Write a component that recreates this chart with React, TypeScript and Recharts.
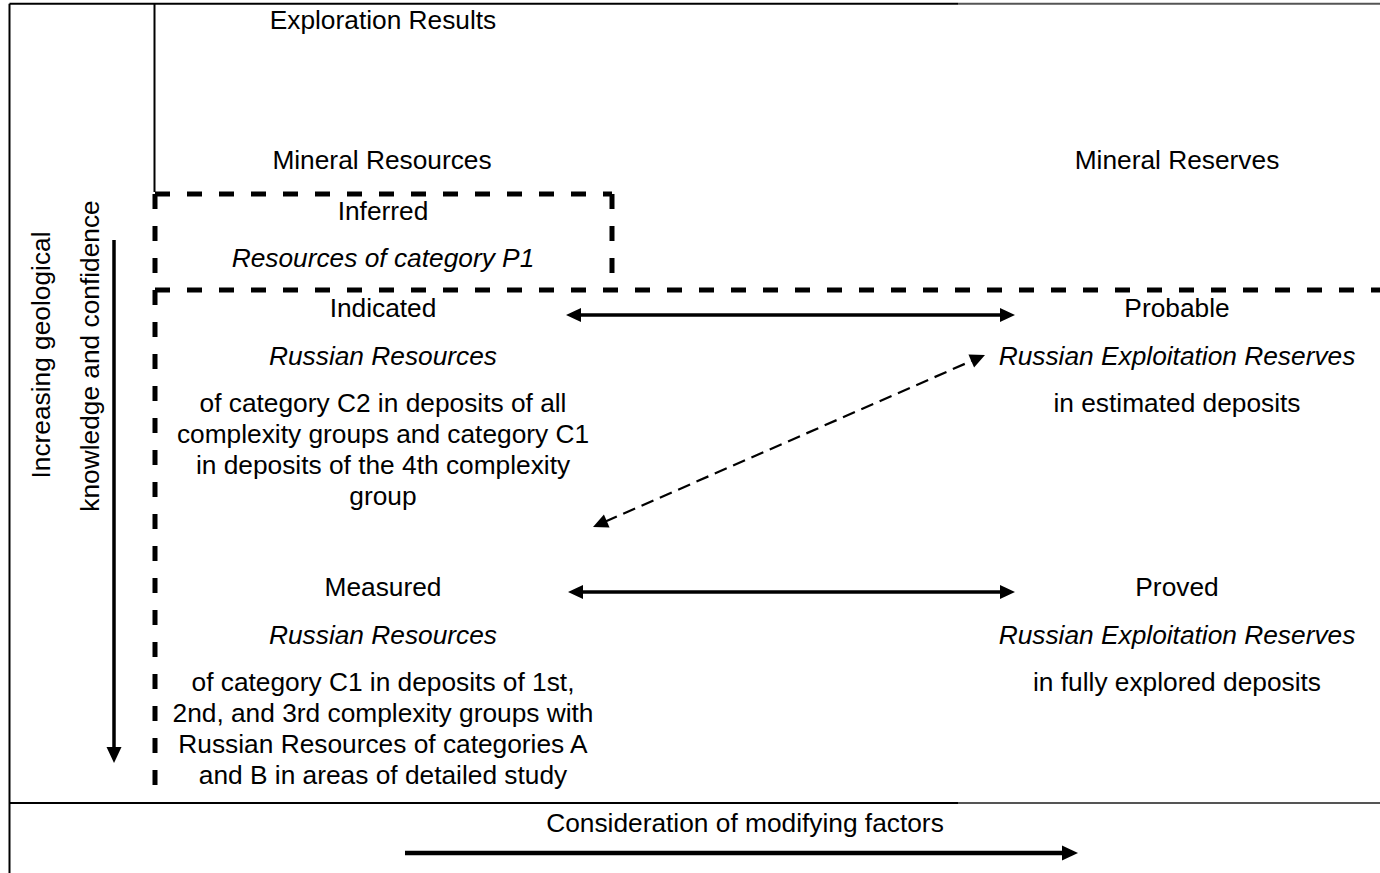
import React from "react";
import { ScatterChart, Scatter, XAxis, YAxis, ReferenceLine } from "recharts";

const W = 1380;
const H = 873;

type Seg = { x1: number; y1: number; x2: number; y2: number };
type Lbl = { x: number; y: number; text: string };

// frame lines (solid black)
const frameBlack: Seg[] = [
  { x1: 9.5, y1: 3.7, x2: 9.5, y2: 873 },
  { x1: 9.5, y1: 3.7, x2: 958, y2: 3.7 },
  { x1: 9.5, y1: 803, x2: 958, y2: 803 },
  { x1: 154.5, y1: 3.7, x2: 154.5, y2: 192 },
];
// frame lines (grey continuation)
const frameGrey: Seg[] = [
  { x1: 958, y1: 3.7, x2: 1380, y2: 3.7 },
  { x1: 958, y1: 803, x2: 1380, y2: 803 },
];
// thick dashed boundaries
const dashedBounds: Seg[] = [
  { x1: 155, y1: 194, x2: 612, y2: 194 },
  { x1: 612, y1: 194, x2: 612, y2: 290 },
  { x1: 155, y1: 290, x2: 1380, y2: 290 },
  { x1: 155, y1: 194, x2: 155, y2: 290 },
  { x1: 155, y1: 290, x2: 155, y2: 803 },
];
// arrows
const singleArrows: Seg[] = [
  { x1: 114, y1: 240, x2: 114, y2: 763 },
  { x1: 405, y1: 853, x2: 1078, y2: 853 },
];
const doubleArrows: Seg[] = [
  { x1: 566, y1: 315, x2: 1015, y2: 315 },
  { x1: 568, y1: 592, x2: 1015, y2: 592 },
];
const dashedDoubleArrows: Seg[] = [{ x1: 593, y1: 527, x2: 985, y2: 355 }];

// text labels (y = text vertical centre)
const regularLabels: Lbl[] = [
  { x: 383, y: 20, text: "Exploration Results" },
  { x: 382, y: 160, text: "Mineral Resources" },
  { x: 1177, y: 160, text: "Mineral Reserves" },
  { x: 383, y: 211, text: "Inferred" },
  { x: 383, y: 308, text: "Indicated" },
  { x: 1177, y: 308, text: "Probable" },
  { x: 383, y: 403, text: "of category C2 in deposits of all" },
  { x: 383, y: 434, text: "complexity groups and category C1" },
  { x: 383, y: 465, text: "in deposits of the 4th complexity" },
  { x: 383, y: 496, text: "group" },
  { x: 1177, y: 403, text: "in estimated deposits" },
  { x: 383, y: 587, text: "Measured" },
  { x: 1177, y: 587, text: "Proved" },
  { x: 383, y: 682, text: "of category C1 in deposits of 1st," },
  { x: 383, y: 713, text: "2nd, and 3rd complexity groups with" },
  { x: 383, y: 744, text: "Russian Resources of categories A" },
  { x: 383, y: 775, text: "and B in areas of detailed study" },
  { x: 1177, y: 682, text: "in fully explored deposits" },
  { x: 745, y: 823, text: "Consideration of modifying factors" },
];
const italicLabels: Lbl[] = [
  { x: 383, y: 258, text: "Resources of category P1" },
  { x: 383, y: 356, text: "Russian Resources" },
  { x: 1177, y: 356, text: "Russian Exploitation Reserves" },
  { x: 383, y: 635, text: "Russian Resources" },
  { x: 1177, y: 635, text: "Russian Exploitation Reserves" },
];
const rotatedLabels: Lbl[] = [
  { x: 41, y: 355, text: "Increasing geological" },
  { x: 90, y: 356, text: "knowledge and confidence" },
];

const FONT = "'Liberation Sans', Arial, sans-serif";
const FS = 26.3;

const head = (tx: number, ty: number, fx: number, fy: number, len: number, half: number) => {
  const dx = tx - fx;
  const dy = ty - fy;
  const d = Math.hypot(dx, dy) || 1;
  const ux = dx / d;
  const uy = dy / d;
  const bx = tx - ux * len;
  const by = ty - uy * len;
  const px = -uy * half;
  const py = ux * half;
  return `${tx},${ty} ${bx + px},${by + py} ${bx - px},${by - py}`;
};

const arrowShape =
  (both: boolean, width: number, len: number, half: number, dash?: string) =>
  (p: any) => {
    const { x1, y1, x2, y2 } = p;
    const d = Math.hypot(x2 - x1, y2 - y1) || 1;
    const ux = (x2 - x1) / d;
    const uy = (y2 - y1) / d;
    const sx = both ? x1 + ux * (len - 2) : x1;
    const sy = both ? y1 + uy * (len - 2) : y1;
    const ex = x2 - ux * (len - 2);
    const ey = y2 - uy * (len - 2);
    return (
      <g>
        <line x1={sx} y1={sy} x2={ex} y2={ey} stroke="#000" strokeWidth={width} strokeDasharray={dash} />
        <polygon points={head(x2, y2, x1, y1, len, half)} fill="#000" />
        {both && <polygon points={head(x1, y1, x2, y2, len, half)} fill="#000" />}
      </g>
    );
  };

const textShape = (italic: boolean) => (p: any) => {
  const { cx, cy, payload } = p;
  return (
    <text
      x={cx}
      y={cy + 9.3}
      textAnchor="middle"
      fontFamily={FONT}
      fontSize={FS}
      fontStyle={italic ? "italic" : "normal"}
      fill="#000"
    >
      {payload.text}
    </text>
  );
};

const rotatedShape = (p: any) => {
  const { cx, cy, payload } = p;
  return (
    <text
      x={cx}
      y={cy + 9.3}
      textAnchor="middle"
      fontFamily={FONT}
      fontSize={FS}
      fill="#000"
      transform={`rotate(-90 ${cx} ${cy})`}
    >
      {payload.text}
    </text>
  );
};

const segOf = (s: Seg) => [
  { x: s.x1, y: s.y1 },
  { x: s.x2, y: s.y2 },
];

export default function App() {
  return (
    <div style={{ width: W, height: H, background: "#fff" }}>
      <style>{"body{margin:0;background:#fff}"}</style>
      <ScatterChart width={W} height={H} margin={{ top: 0, right: 0, bottom: 0, left: 0 }}>
        <XAxis type="number" dataKey="x" domain={[0, W]} hide allowDataOverflow />
        <YAxis type="number" dataKey="y" domain={[0, H]} reversed hide allowDataOverflow />
        {frameBlack.map((s, i) => (
          <ReferenceLine key={`fb${i}`} segment={segOf(s)} stroke="#000" strokeWidth={2} ifOverflow="visible" />
        ))}
        {frameGrey.map((s, i) => (
          <ReferenceLine key={`fg${i}`} segment={segOf(s)} stroke="#555" strokeWidth={2} ifOverflow="visible" />
        ))}
        {dashedBounds.map((s, i) => (
          <ReferenceLine
            key={`db${i}`}
            segment={segOf(s)}
            stroke="#000"
            strokeWidth={5}
            strokeDasharray="15 17"
            ifOverflow="visible"
          />
        ))}
        {singleArrows.map((s, i) => (
          <ReferenceLine
            key={`sa${i}`}
            segment={segOf(s)}
            ifOverflow="visible"
            shape={arrowShape(false, i === 0 ? 3.5 : 4.5, 16, 7.5)}
          />
        ))}
        {doubleArrows.map((s, i) => (
          <ReferenceLine
            key={`da${i}`}
            segment={segOf(s)}
            ifOverflow="visible"
            shape={arrowShape(true, 3.5, 15, 7)}
          />
        ))}
        {dashedDoubleArrows.map((s, i) => (
          <ReferenceLine
            key={`dd${i}`}
            segment={segOf(s)}
            ifOverflow="visible"
            shape={arrowShape(true, 2.2, 15, 7, "13 7")}
          />
        ))}
        <Scatter data={regularLabels} shape={textShape(false)} isAnimationActive={false} />
        <Scatter data={italicLabels} shape={textShape(true)} isAnimationActive={false} />
        <Scatter data={rotatedLabels} shape={rotatedShape} isAnimationActive={false} />
      </ScatterChart>
    </div>
  );
}
